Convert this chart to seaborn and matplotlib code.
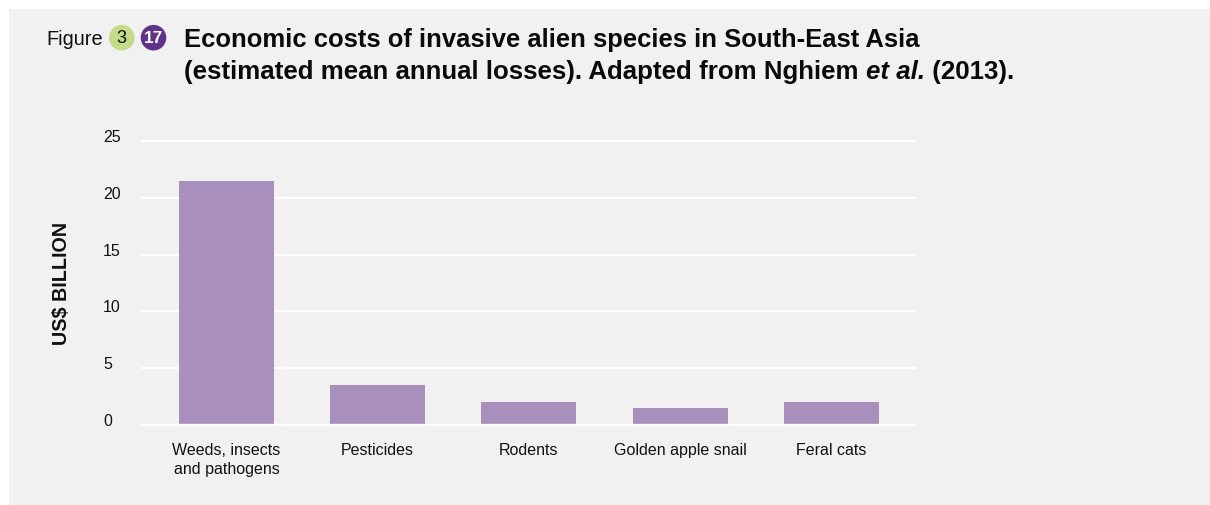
import pandas as pd
import matplotlib.pyplot as plt
import seaborn as sns
from matplotlib.patches import Circle, Rectangle
from matplotlib.transforms import ScaledTranslation

# Values
categories = ['Weeds, insects\nand pathogens', 'Pesticides', 'Rodents', 'Golden apple snail', 'Feral cats']
losses = [21.45, 3.55, 2.0, 1.5, 2.05]
y_ticks = [0, 5, 10, 15, 20, 25]

title_line1 = 'Economic costs of invasive alien species in South-East Asia'
title_line2 = ['(estimated mean annual losses). Adapted from Nghiem ', 'et al.', ' (2013).']

BAR = '#A98FBC'
PANEL = '#F1F1F1'
INK = '#111111'
W, H = 1210, 506

sns.set_theme(style='white', rc={'axes.facecolor': 'none', 'figure.facecolor': 'white'})
plt.rcParams['font.family'] = ['Liberation Sans', 'DejaVu Sans']

fig = plt.figure(figsize=(W / 100, H / 100), dpi=100)

# Overlay in pixel coords for the panel and the header
back = fig.add_axes([0, 0, 1, 1], zorder=0)
back.set_xlim(0, W)
back.set_ylim(H, 0)
back.axis('off')
back.add_patch(Rectangle((9, 10), 1200.5, 495.7, color=PANEL, lw=0))

ax = fig.add_axes([141 / W, (H - 426) / H, 775 / W, 284 / H], zorder=1)
df = pd.DataFrame({'category': categories, 'loss': losses})
sns.barplot(data=df, x='category', y='loss', color=BAR, saturation=1, width=0.628, linewidth=0, ax=ax, zorder=2)
ax.set_xlim(-0.565, 4.559)
ax.set_ylim(0, 25)
ax.set_xlabel('')
ax.set_ylabel('')
ax.set_yticks(y_ticks)
ax.grid(axis='y', color='white', lw=1.5, zorder=1)
ax.set_axisbelow(True)
for side in ['left', 'right']:
    ax.spines[side].set_visible(False)
for side in ['top', 'bottom']:
    ax.spines[side].set_color('white')
    ax.spines[side].set_linewidth(1.7)
    ax.spines[side].set_capstyle('butt')

ax.tick_params(axis='x', length=0, pad=12, labelsize=11.5, labelcolor=INK)
ax.tick_params(axis='y', length=0, pad=27.4, labelsize=11.5, labelcolor=INK)
shift_up = ScaledTranslation(0, 6 / 100, fig.dpi_scale_trans)
for lab in ax.get_yticklabels():
    lab.set_horizontalalignment('left')
    lab.set_transform(lab.get_transform() + shift_up)
for lab in ax.get_xticklabels():
    lab.set_linespacing(1.35)

front = fig.add_axes([0, 0, 1, 1], zorder=2)
front.set_xlim(0, W)
front.set_ylim(H, 0)
front.axis('off')

front.text(61.5, 283.5, 'US$ BILLION', rotation=90, ha='center', va='center', fontsize=14.2, fontweight='bold', color=INK)

# Header: label, two round badges, two-line title
front.text(46, 39, 'Figure', ha='left', va='center', fontsize=14.4, color=INK)
front.add_patch(Circle((121.7, 38.7), 12.8, color='#C3DB8A', lw=0))
front.add_patch(Circle((153.5, 38.7), 12.8, color='#5F3388', lw=0))
front.text(121.7, 38.9, '3', ha='center', va='center', fontsize=13, color=INK)
front.text(153.5, 38.9, '17', ha='center', va='center', fontsize=12.4, color='white', fontweight='bold')

front.text(184, 47, title_line1, ha='left', va='baseline', fontsize=18.45, fontweight='bold', color='#0A0A0A')
piece = front.text(184, 79, title_line2[0], ha='left', va='baseline', fontsize=18.6, fontweight='bold', color='#0A0A0A')
for txt, style in [(title_line2[1], 'italic'), (title_line2[2], 'normal')]:
    piece = front.annotate(txt, xy=(1, 0), xycoords=piece, va='bottom', ha='left', fontsize=18.6,
                           fontweight='bold', fontstyle=style, color='#0A0A0A')

fig.savefig('out.png', dpi=100)
